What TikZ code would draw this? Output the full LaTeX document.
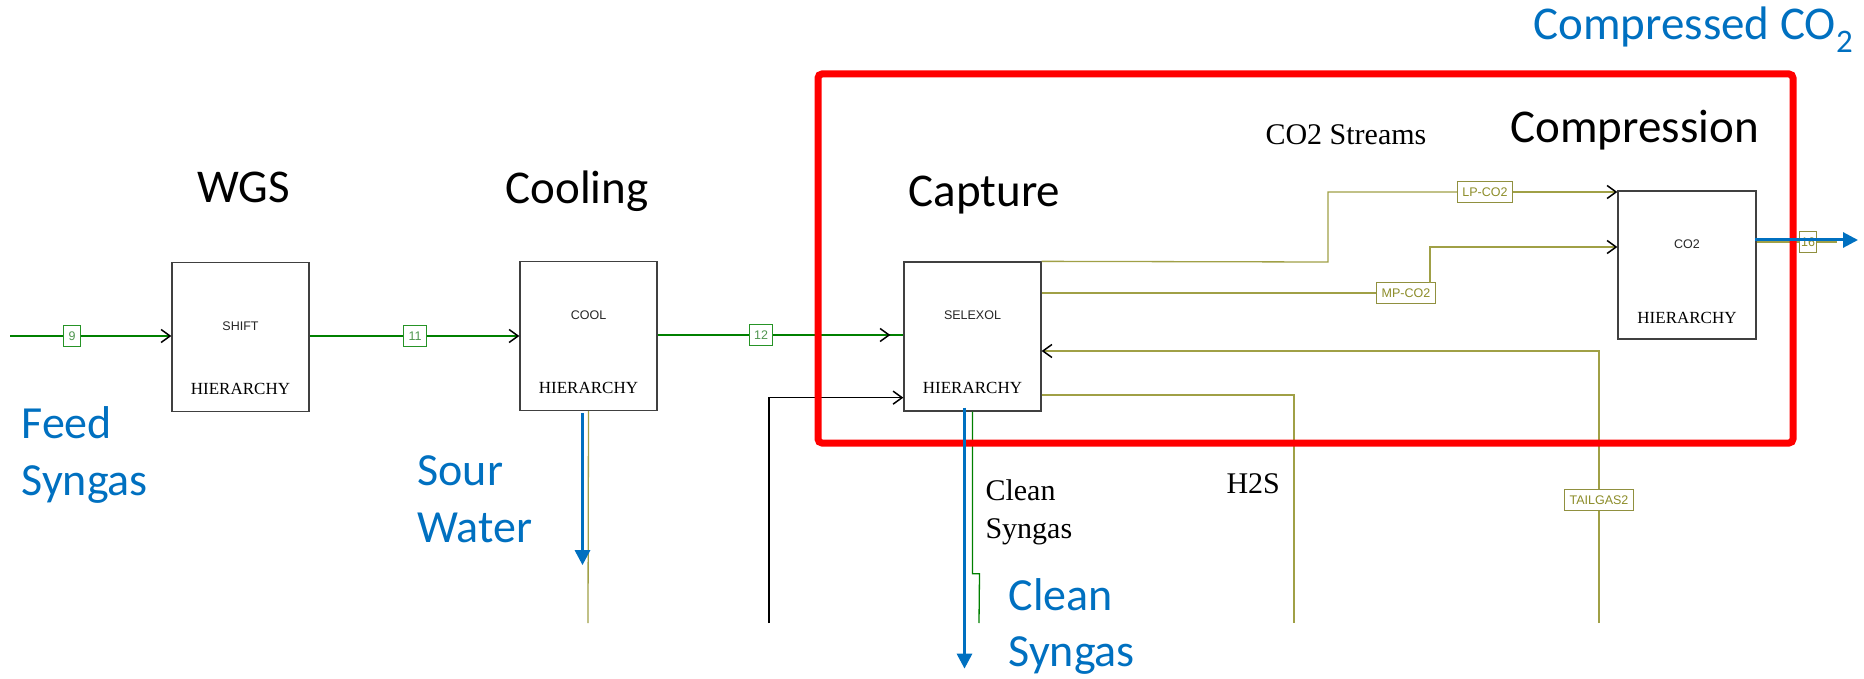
\documentclass[tikz,border=0pt]{standalone}
\usepackage{fontspec}
\setmainfont{Liberation Serif}
\newfontfamily\calib{Carlito}
\newfontfamily\arialf{Liberation Sans}
\usetikzlibrary{arrows.meta,calc}

\definecolor{flowgreen}{RGB}{0,128,0}
\definecolor{oliveline}{RGB}{160,160,70}
\definecolor{olivetext}{RGB}{140,140,40}
\definecolor{tagtext}{RGB}{80,150,80}
\definecolor{callout}{RGB}{0,112,192}
\definecolor{framered}{RGB}{255,0,0}

\begin{document}
\begin{tikzpicture}[x=1pt,y=-1pt,
  unit/.style={draw=black!75, line width=1.3pt, fill=white, minimum width=137pt,
    minimum height=149pt, inner sep=0pt},
  unitname/.style={font=\arialf\fontsize{12.5}{12.5}\selectfont, text=black!85},
  hier/.style={font=\fontsize{17}{17}\selectfont, anchor=base},
  tag/.style={draw, fill=white, line width=1pt, font=\arialf\fontsize{12.5}{12.5}\selectfont,
    inner xsep=5pt, inner ysep=0pt, minimum height=21pt},
  greentag/.style={tag, draw=flowgreen!85, text=tagtext},
  olivetag/.style={tag, draw=oliveline!90!black, text=olivetext},
  mainflow/.style={draw=flowgreen, line width=2.4pt},
  sideflow/.style={draw=oliveline, line width=1.3pt},
  barb/.style={-{Straight Barb[length=9pt, width=13pt, line width=1.5pt, color=black]}},
  bluearrow/.style={draw=callout, line width=3pt, -{Triangle[length=15pt, width=15pt]}},
  heading/.style={font=\calib\fontsize{47}{47}\selectfont, anchor=base west},
  callouttext/.style={font=\calib\fontsize{46}{46}\selectfont, text=callout, anchor=base west},
  note/.style={font=\fontsize{30}{30}\selectfont, anchor=base west}
]
\useasboundingbox (0,0) rectangle (1864,679);

% process units
\node[unit] (shift) at (240.5,337) {};
\node[unit] (cool) at (588.5,336) {};
\node[unit] (selexol) at (972.5,336.5) {};
\node[unit, minimum width=138pt, minimum height=148pt] (co2) at (1687,265) {};

\node[unitname] (shiftname) at ($(shift.north)+(0,64)$) {SHIFT};
\node[unitname] (coolname) at ($(cool.north)+(0,54)$) {COOL};
\node[unitname] (selexolname) at ($(selexol.north)+(0,54)$) {SELEXOL};
\node[unitname] (co2name) at ($(co2.north)+(0,54)$) {CO2};
\node[hier] (shifth) at ($(shift.south)+(0,-18)$) {HIERARCHY};
\node[hier] (coolh) at ($(cool.south)+(0,-18)$) {HIERARCHY};
\node[hier] (selexolh) at ($(selexol.south)+(0,-18)$) {HIERARCHY};
\node[hier] (co2h) at ($(co2.south)+(0,-16)$) {HIERARCHY};

% stream tags
\node[greentag] (s9) at (72,336) {9};
\node[greentag] (s11) at (415,336) {11};
\node[greentag] (s12) at (761,335) {12};
\node[olivetag] (lp) at (1485,192) {LP-CO2};
\node[olivetag] (mp) at (1406,293) {MP-CO2};
\node[olivetag] (tg) at (1599,500) {TAILGAS2};
\node[olivetag, inner xsep=2pt] (s16) at (1808,242) {16};

% free ends
\coordinate (feedin) at (10,336);
\coordinate (recyc) at (769,623);
\coordinate (swend) at (588,623);
\coordinate (cleanend) at (979,623);
\coordinate (lpbend) at (1328,262);
\coordinate (mpup) at (1430,283);
\coordinate (tgend) at (1599,623);
\coordinate (h2send) at (1294,623);
\coordinate (co2out) at (1837,242);
\coordinate (co2tip) at (1858,240);

% main syngas train
\draw[mainflow] (feedin) -- (s9);
\draw[mainflow, barb] (s9) -- (shift.west |- s9);
\draw[mainflow] (shift.east |- s11) -- (s11);
\draw[mainflow, barb] (s11) -- (cool.west |- s11);
\draw[mainflow] (cool.east |- s12) -- (s12) -- (selexol.west |- s12);
\draw[mainflow, barb] (s12.east) -- ($(selexol.west |- s12)+(-13,0)$);

% recycle inlet
\draw[black, line width=1.2pt, barb] (recyc) |- ($(selexol.south west)+(0,-14)$);

% cooler condensate
\draw[sideflow] (cool.south) -- (swend);

% clean syngas leaving the absorber
\draw[draw=flowgreen, line width=1.3pt] (selexol.south) -- ++(0,162) -- ++(7,0) -- (cleanend);

% CO2 streams to compression
\draw[sideflow] (selexol.north east) -- (lpbend) |- (lp.west);
\draw[sideflow, barb] (lp.east) -- (co2.west |- lp.east);
\draw[sideflow] (selexol.east |- mp) -- (mp.west);
\draw[sideflow, barb] (mpup) |- ($(co2.west)+(0,-18)$);

% tail gas return and H2S
\draw[sideflow] (tgend) -- (tg);
\draw[sideflow, barb] (tg) |- ($(selexol.east)+(0,14.5)$);
\draw[sideflow] ($(selexol.east)+(0,58.5)$) -| (h2send);

% compressed CO2 outlet
\draw[sideflow] ($(co2.east)+(0,-23)$) -- (s16) -- (co2out);

% capture and compression section
\draw[draw=framered, line width=7pt, rounded corners=4pt] (818,74) rectangle (1793,443);

% product callouts
\draw[bluearrow] ($(cool.south)+(-6,2)$) -- ++(0,152);
\draw[bluearrow] ($(selexol.south)+(-8,-4)$) -- ++(0,261);
\draw[bluearrow] ($(co2.east)+(-2,-25)$) -- (co2tip);

% section headings
\node[heading] (wgs) at (194,203) {WGS};
\node[heading] (cooling) at (502,204) {Cooling};
\node[heading] (capture) at (905,207) {Capture};
\node[heading] (compression) at (1507,143) {Compression};

% stream notes
\node[note] (streams) at (1262,145) {CO2 Streams};
\node[note] (h2s) at (1223,493) {H2S};
\node[note] (cleanA) at (982,500) {Clean};
\node[note] (cleanB) at (982,538) {Syngas};

% callout texts
\node[callouttext] (feedA) at (18,438) {Feed};
\node[callouttext] (feedB) at (18,495) {Syngas};
\node[callouttext] (sourA) at (414,485) {Sour};
\node[callouttext] (sourB) at (414,542) {Water};
\node[callouttext] (prodA) at (1005,610) {Clean};
\node[callouttext] (prodB) at (1005,666) {Syngas};
\node[callouttext, font=\calib\fontsize{47}{47}\selectfont] (co2prod) at (1530,40) {Compressed CO\textsubscript{2}};
\end{tikzpicture}
\end{document}
